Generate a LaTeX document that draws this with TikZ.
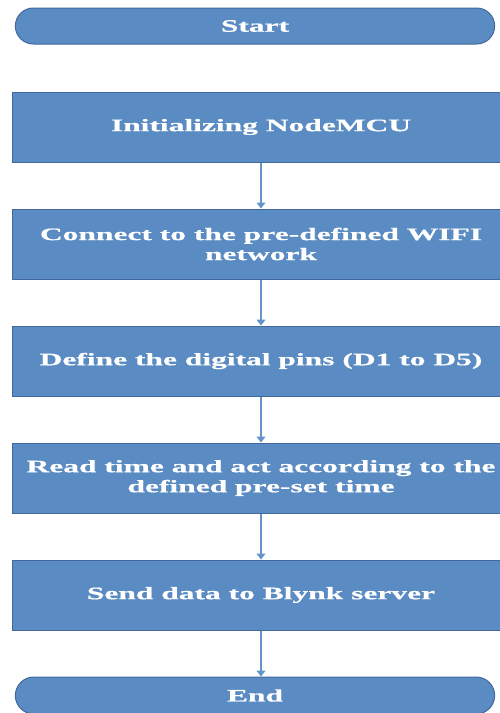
\documentclass[tikz,border=0pt]{standalone}
\usepackage{fontspec}
\setmainfont{Liberation Serif}
\newfontfamily\chartfont[FakeStretch=1.8,FakeBold=0.6]{Liberation Serif}
\usetikzlibrary{positioning,shapes.misc,arrows.meta}
\definecolor{boxblue}{HTML}{5A8CC3}
\definecolor{boxline}{HTML}{41699B}
\definecolor{linkblue}{HTML}{6494CA}

\begin{document}
\begin{tikzpicture}[
stepbox/.style={
  draw=boxline,
  fill=boxblue,
  line width=1pt,
  minimum width=498pt,
  minimum height=70pt,
  align=center,
  text=white,
  font=\chartfont\bfseries\fontsize{17.5}{20}\selectfont
  },
term/.style={
  stepbox,
  rounded rectangle,
  minimum width=486pt,
  minimum height=36pt
  },
link/.style={
  draw=linkblue,
  line width=1.3pt,
  -{Triangle[width=9pt,length=6pt]}
  },
node distance=46pt
]
\useasboundingbox (0,0) rectangle (499pt,-713pt);

\node[term] (start) at (255pt,-26pt) {Start};
\node[stepbox, below=47pt of start, xshift=6pt] (init) {Initializing NodeMCU};
\node[stepbox, below=of init] (wifi) {Connect to the pre-defined WIFI\\network};
\node[stepbox, below=of wifi] (pins) {Define the digital pins (D1 to D5)};
\node[stepbox, below=of pins] (timer) {Read time and act according to the\\defined pre-set time};
\node[stepbox, below=of timer] (blynk) {Send data to Blynk server};
\node[term, below=of blynk, xshift=-6pt, minimum height=37pt] (finish) {End};

\foreach \a/\b in {init/wifi,wifi/pins,pins/timer,timer/blynk,blynk/finish}
  \draw[link] (\a.south) -- (\a.south |- \b.north);

\end{tikzpicture}
\end{document}
